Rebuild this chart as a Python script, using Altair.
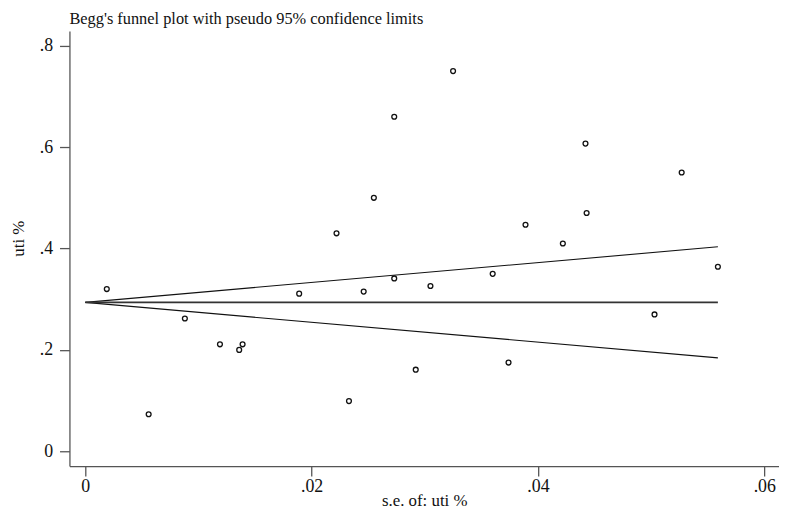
import altair as alt
import pandas as pd

# Study points: standard error and effect (uti %)
se_vals = [0.0019, 0.0056, 0.0088, 0.0119, 0.0136, 0.0139, 0.0189, 0.0222, 0.0233,
           0.0246, 0.0255, 0.0273, 0.0273, 0.0292, 0.0305, 0.0325, 0.0360, 0.0374,
           0.0389, 0.0422, 0.0442, 0.0443, 0.0503, 0.0527, 0.0559]
uti_vals = [0.320, 0.073, 0.262, 0.211, 0.200, 0.211, 0.311, 0.430, 0.099,
            0.315, 0.500, 0.660, 0.341, 0.161, 0.326, 0.750, 0.350, 0.175,
            0.447, 0.410, 0.607, 0.470, 0.270, 0.550, 0.364]

# Pseudo 95% confidence limit lines (endpoints)
line_se = [0.0, 0.0559]
pooled = [0.2938, 0.2938]
upper = [0.2938, 0.4034]
lower = [0.2938, 0.1842]

pts = pd.DataFrame({"se": se_vals, "uti": uti_vals})
lines = pd.DataFrame({
    "se": line_se * 2,
    "uti": upper + lower,
    "which": ["upper"] * 2 + ["lower"] * 2,
})
center = pd.DataFrame({"se": line_se, "uti": pooled})

FONT = "Liberation Serif"
x_dom = [-0.0014, 0.0613]
y_dom = [-0.0293, 0.829]

x_enc = alt.X(
    "se:Q",
    scale=alt.Scale(domain=x_dom, nice=False, zero=False),
    axis=alt.Axis(
        title="s.e. of: uti %",
        values=[0, 0.02, 0.04, 0.06],
        labelExpr="datum.value == 0 ? '0' : replace(format(datum.value, '.2f'), '0.', '.')",
        grid=False,
        domainColor="#555555", domainWidth=1.3,
        tickColor="#555555", tickWidth=1.3, tickSize=10,
        labelFont=FONT, labelFontSize=18, labelColor="#111111", labelPadding=2,
        titleFont=FONT, titleFontSize=17, titleFontWeight="normal", titleColor="#111111",
        titleBaseline="alphabetic", titleY=40,
    ),
)
y_enc = alt.Y(
    "uti:Q",
    scale=alt.Scale(domain=y_dom, nice=False, zero=False),
    axis=alt.Axis(
        title="uti %",
        values=[0, 0.2, 0.4, 0.6, 0.8],
        labelExpr="datum.value == 0 ? '0' : replace(format(datum.value, '.1f'), '0.', '.')",
        grid=False,
        domainColor="#555555", domainWidth=1.3,
        tickColor="#555555", tickWidth=1.3, tickSize=10,
        labelFont=FONT, labelFontSize=18, labelColor="#111111", labelPadding=7,
        labelAngle=0,
        titleFont=FONT, titleFontSize=17, titleFontWeight="normal", titleColor="#111111",
        titleAngle=-90, titleBaseline="alphabetic", titleAlign="center",
        titleX=-46, titleY=209,
    ),
)

points = alt.Chart(pts).mark_point(
    shape="circle", filled=False, size=24, stroke="#111111", strokeWidth=1.3, opacity=1
).encode(x=x_enc, y=y_enc)

limit_lines = alt.Chart(lines).mark_line(color="#111111", strokeWidth=1.1).encode(
    x=alt.X("se:Q"), y=alt.Y("uti:Q"), detail="which:N"
)
center_line = alt.Chart(center).mark_line(color="#333333", strokeWidth=1.7).encode(
    x=alt.X("se:Q"), y=alt.Y("uti:Q")
)

chart = alt.layer(points, limit_lines, center_line).properties(
    width=716,
    height=439,
    autosize=alt.AutoSizeParams(type="none"),
    padding={"left": 62, "top": 21, "right": 0, "bottom": 44},
    title=alt.TitleParams(
        "Begg's funnel plot with pseudo 95% confidence limits",
        anchor="start", font=FONT, fontSize=16.5, fontWeight="normal",
        color="#111111", offset=4, frame="group",
    ),
).configure_view(stroke=None)

chart.save("out.html", embed_options={"renderer": "svg", "actions": False})
